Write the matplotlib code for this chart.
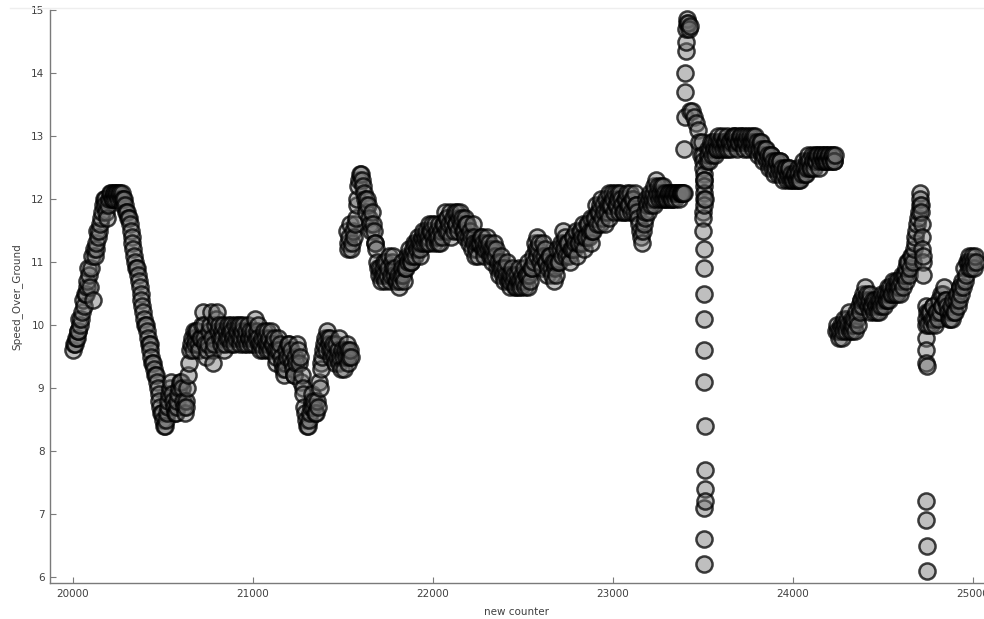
import numpy as np
import matplotlib
matplotlib.use("Agg")
import matplotlib.pyplot as plt
from matplotlib.lines import Line2D

# ---- data: Speed_Over_Ground against the record counter ----
# Regular stretches are logged every 10 counts; a second reading sits
# 5 counts after each one (the "_mid" lists).
STEP = 10
MID = 5

seg_a_start = 20000
seg_a_sog = [
    9.6, 9.7, 9.8, 9.9, 10.0, 10.2, 10.3, 10.5, 10.7, 10.8,
    10.9, 10.4, 11.1, 11.3, 11.4, 11.6, 11.8, 12.0, 11.9, 11.7,
    12.0, 12.1, 12.0, 12.1, 12.1, 12.0, 12.1, 12.1, 12.0, 11.9,
    11.8, 11.7, 11.5, 11.3, 11.1, 10.9, 10.8, 10.6, 10.4, 10.2,
    10.0, 9.9, 9.7, 9.6, 9.4, 9.3, 9.2, 9.0, 8.8, 8.6,
    8.5, 8.4, 8.6, 8.8, 9.0, 8.9, 8.7, 8.6, 8.8, 9.0,
    9.1, 8.8, 8.6, 8.7, 9.2, 9.6, 9.8, 9.9, 9.7, 9.9,
    9.6, 9.8, 10.2, 9.8, 9.5, 9.7, 10.0, 9.8, 9.4, 10.0,
    10.2, 10.0, 9.7, 9.8, 9.6, 9.9, 10.0, 9.9, 9.7, 9.8,
    10.0, 9.9, 9.8, 10.0, 9.9, 9.7, 9.9, 10.0, 9.8, 9.7,
    9.9, 10.1, 9.9, 9.8, 9.6, 9.8, 9.9, 9.7, 9.6, 9.8,
    9.9, 9.7, 9.6, 9.5, 9.8, 9.7, 9.4, 9.2, 9.3, 9.5,
    9.7, 9.6, 9.3, 9.2, 9.4, 9.6, 9.5, 9.2, 8.9, 8.6,
    8.4, 8.5, 8.7, 8.9, 8.8, 8.6, 8.7, 9.0, 9.3, 9.6,
    9.8, 9.9, 9.7, 9.8, 9.6, 9.5, 9.7, 9.6, 9.4, 9.3,
    9.5, 9.6, 9.7, 9.4, 9.6,
]
seg_a_mid = [
    9.7, 9.8, 9.9, 10.1, 10.1, 10.4, 10.5, 10.6, 10.9, 10.6,
    11.1, 11.2, 11.2, 11.5, 11.5, 11.7, 11.9, 12.0, 11.8, 11.9,
    12.1, 12.0, 12.1, 12.0, 12.1, 12.1, 12.0, 11.9, 12.0, 11.8,
    11.7, 11.6, 11.4, 11.2, 11.0, 10.9, 10.7, 10.5, 10.3, 10.1,
    10.0, 9.8, 9.7, 9.5, 9.4, 9.2, 9.1, 8.9, 8.7, 8.6,
    8.4, 8.5, 8.7, 8.9, 9.1, 8.8, 8.6, 8.7, 8.9, 9.1,
    9.0, 8.7, 8.8, 9.0, 9.4, 9.7, 9.6, 9.8, 9.9, 9.7,
    9.8, 10.0, 10.0, 9.7, 9.6, 9.9, 10.2, 9.6, 9.7, 10.1,
    9.9, 9.8, 9.9, 10.0, 9.7, 9.8, 9.8, 10.0, 9.9, 9.7,
    9.8, 10.0, 9.7, 9.8, 10.0, 9.8, 9.7, 9.8, 9.9, 9.8,
    9.7, 9.8, 10.0, 9.7, 9.7, 9.6, 9.8, 9.9, 9.7, 9.6,
    9.7, 9.8, 9.4, 9.6, 9.6, 9.5, 9.3, 9.4, 9.6, 9.7,
    9.5, 9.4, 9.2, 9.5, 9.7, 9.4, 9.1, 9.0, 8.7, 8.5,
    8.4, 8.6, 8.8, 8.7, 8.6, 8.8, 9.1, 9.4, 9.5, 9.7,
    9.6, 9.8, 9.6, 9.5, 9.7, 9.4, 9.5, 9.8, 9.5, 9.6,
    9.3, 9.5, 9.6, 9.5, 9.5,
]

seg_b_start = 21520
seg_b_sog = [
    11.5, 11.2, 11.6, 11.3, 11.4, 11.7, 12.0, 12.3, 12.4, 12.2,
    12.0, 11.8, 11.9, 11.6, 11.8, 11.5, 11.3, 11.0, 10.8, 10.7,
    10.9, 10.8, 11.0, 10.9, 10.7, 11.0, 11.1, 10.9, 10.7, 10.6,
    10.8, 10.9, 10.7, 10.9, 11.0, 11.1, 11.0, 11.2, 11.1, 11.2,
    11.3, 11.2, 11.4, 11.3, 11.5, 11.4, 11.3, 11.5, 11.4, 11.6,
    11.5, 11.4, 11.3, 11.4, 11.6, 11.5, 11.7, 11.6, 11.4, 11.7,
    11.8, 11.6, 11.5, 11.8, 11.7, 11.5, 11.4, 11.6, 11.3, 11.4,
    11.6, 11.3, 11.2, 11.1, 11.3, 11.4, 11.3, 11.2, 11.4, 11.3,
    11.2, 11.1, 11.3, 11.2, 11.0, 10.9, 11.1, 10.8, 10.9, 11.0,
    10.8, 10.7, 10.9, 10.8, 10.6, 10.7, 10.9, 10.6, 10.7, 10.6,
    10.8, 10.6, 10.7, 10.9, 11.0, 11.2, 11.4, 11.3, 11.1, 11.3,
    11.2, 11.0, 10.9, 11.1, 10.8, 10.7, 11.0, 11.2, 11.0, 11.3,
    11.5, 11.2, 11.1, 11.3, 11.0, 11.2, 11.4, 11.3, 11.1, 11.3,
    11.5, 11.4, 11.2, 11.4, 11.6, 11.5, 11.3, 11.5, 11.7, 11.6,
    11.8, 11.9, 11.7, 11.8, 12.0, 11.9, 11.7, 11.9, 12.0, 12.1,
    11.9, 12.0, 12.1, 11.9, 11.8, 12.0, 12.1, 11.9, 11.8, 12.0,
    12.1, 11.9, 11.7, 11.5, 11.3, 11.6, 11.8, 11.9, 12.0, 11.9,
    12.1, 12.2, 12.3, 12.2, 12.1, 12.0, 12.2, 12.1, 12.0, 12.1,
    12.1, 12.0, 12.1, 12.1, 12.1, 12.1, 12.1, 12.1,
]
seg_b_mid = [
    11.3, 11.4, 11.2, 11.5, 11.6, 11.9, 12.2, 12.4, 12.3, 12.1,
    11.9, 12.0, 11.7, 11.5, 11.6, 11.3, 11.2, 10.9, 10.9, 10.8,
    11.0, 10.7, 10.8, 11.1, 10.8, 10.9, 10.8, 10.7, 10.8, 10.7,
    11.0, 10.8, 10.9, 11.1, 11.2, 11.0, 11.1, 11.3, 11.3, 11.4,
    11.1, 11.3, 11.5, 11.4, 11.3, 11.6, 11.5, 11.6, 11.3, 11.4,
    11.3, 11.6, 11.5, 11.6, 11.8, 11.7, 11.5, 11.8, 11.6, 11.5,
    11.6, 11.8, 11.7, 11.6, 11.5, 11.7, 11.6, 11.4, 11.5, 11.2,
    11.4, 11.1, 11.3, 11.3, 11.4, 11.2, 11.1, 11.3, 11.2, 11.1,
    11.0, 11.2, 11.1, 10.9, 10.8, 11.0, 10.9, 10.7, 10.8, 10.7,
    10.6, 10.8, 10.7, 10.6, 10.8, 10.6, 10.7, 10.8, 10.9, 10.8,
    11.0, 10.8, 10.9, 11.1, 11.3, 11.1, 11.2, 11.0, 10.9, 11.1,
    11.0, 10.8, 11.1, 10.9, 11.0, 10.9, 10.8, 11.0, 11.2, 11.1,
    11.3, 11.4, 11.3, 11.1, 11.2, 11.4, 11.2, 11.5, 11.3, 11.5,
    11.3, 11.6, 11.4, 11.6, 11.4, 11.7, 11.5, 11.7, 11.9, 11.8,
    11.6, 12.0, 11.9, 11.6, 11.8, 12.1, 11.9, 12.1, 11.8, 11.9,
    12.1, 11.8, 12.0, 11.8, 12.0, 11.8, 11.9, 12.1, 12.0, 11.8,
    11.9, 11.8, 11.6, 11.4, 11.5, 11.7, 12.0, 11.8, 12.1, 12.0,
    11.9, 12.0, 12.1, 12.0, 12.2, 12.1, 12.0, 12.0, 12.1, 12.0,
    12.0, 12.1, 12.0, 12.1, 12.0, 12.1, 12.1, 12.1,
]

# burst of irregular readings around counter 23400-23520
burst_counter = [
    23395, 23398, 23400, 23402, 23404, 23406, 23408, 23410, 23412, 23415,
    23420, 23425, 23430, 23440, 23450, 23460, 23470, 23480, 23490,
    23496, 23498, 23500, 23502, 23503, 23504, 23505, 23506, 23507, 23508,
    23500, 23501, 23502, 23503, 23504, 23505, 23506, 23507, 23508, 23509,
    23510, 23511, 23512, 23505, 23506, 23507, 23508, 23509,
]
burst_sog = [
    12.8, 13.3, 13.7, 14.0, 14.35, 14.5, 14.7, 14.8, 14.85, 14.8,
    14.7, 14.75, 13.4, 13.4, 13.3, 13.2, 13.1, 12.9, 12.7,
    12.9, 12.7, 12.6, 12.5, 12.4, 12.3, 12.2, 12.1, 12.0, 11.9,
    11.8, 11.7, 11.5, 11.2, 10.9, 10.5, 10.1, 9.6, 9.1, 8.4,
    7.7, 7.4, 7.2, 7.1, 6.6, 6.2, 12.3, 12.0,
]

seg_c_start = 23520
seg_c_sog = [
    12.6, 12.7, 12.8, 12.7, 12.8, 12.9, 12.8, 12.9, 12.9, 12.8,
    12.9, 12.9, 12.8, 12.9, 12.9, 13.0, 12.9, 12.8, 12.9, 13.0,
    12.9, 13.0, 12.9, 12.8, 13.0, 12.9, 12.8, 13.0, 12.9, 12.8,
    12.9, 12.8, 12.7, 12.8, 12.7, 12.6, 12.7, 12.6, 12.5, 12.6,
    12.5, 12.6, 12.5, 12.4, 12.5, 12.4, 12.5, 12.4, 12.3, 12.4,
    12.3, 12.4, 12.3, 12.4, 12.5, 12.4, 12.5, 12.6, 12.5, 12.6,
    12.7, 12.6, 12.7, 12.6, 12.7, 12.6, 12.7, 12.6, 12.7, 12.6,
    12.7, 12.6,
]
seg_c_mid = [
    12.8, 12.6, 12.9, 12.9, 12.7, 12.8, 13.0, 12.8, 13.0, 12.9,
    12.8, 13.0, 12.9, 12.8, 13.0, 12.9, 13.0, 12.9, 13.0, 12.9,
    12.8, 12.9, 13.0, 12.9, 12.9, 13.0, 12.9, 12.8, 12.7, 12.9,
    12.7, 12.6, 12.8, 12.6, 12.5, 12.7, 12.5, 12.4, 12.6, 12.4,
    12.6, 12.4, 12.3, 12.5, 12.3, 12.5, 12.3, 12.3, 12.4, 12.3,
    12.5, 12.3, 12.5, 12.6, 12.4, 12.6, 12.7, 12.5, 12.7, 12.5,
    12.6, 12.7, 12.5, 12.7, 12.6, 12.7, 12.6, 12.7, 12.6, 12.7,
    12.6, 12.7,
]

seg_d_start = 24240
seg_d_sog = [
    9.9, 9.9, 9.9, 9.8, 9.9, 10.0, 10.1, 10.2, 10.0, 9.9,
    10.1, 10.2, 10.0, 10.2, 10.4, 10.5, 10.6, 10.5, 10.4, 10.5,
    10.3, 10.2, 10.3, 10.4, 10.2, 10.3, 10.4, 10.5, 10.4, 10.5,
    10.6, 10.5, 10.6, 10.7, 10.5, 10.6, 10.7, 10.6, 10.8, 10.9,
    11.0, 10.9, 11.1, 11.2, 11.4, 11.6, 11.8,
]
seg_d_mid = [
    10.0, 9.8, 10.0, 10.0, 10.1, 9.9, 10.0, 9.9, 10.1, 10.0,
    9.9, 10.1, 10.3, 10.4, 10.3, 10.4, 10.4, 10.3, 10.2, 10.3,
    10.4, 10.4, 10.2, 10.3, 10.4, 10.5, 10.3, 10.4, 10.6, 10.4,
    10.5, 10.7, 10.5, 10.6, 10.7, 10.5, 10.8, 10.8, 10.7, 11.0,
    10.8, 11.1, 11.0, 11.3, 11.5, 11.7, 11.9,
]

# second burst near counter 24705-24745
burst2_counter = [
    24705, 24708, 24710, 24712, 24714, 24716, 24718, 24720, 24722, 24724,
    24736, 24737, 24738, 24739, 24740, 24741, 24742, 24743,
    24740, 24741, 24742, 24743,
]
burst2_sog = [
    12.1, 12.0, 11.9, 11.8, 11.6, 11.4, 11.2, 11.0, 10.8, 11.1,
    10.3, 10.1, 10.0, 9.8, 9.6, 9.4, 9.35, 10.2,
    7.2, 6.9, 6.5, 6.1,
]

seg_e_start = 24750
seg_e_sog = [
    10.0, 10.2, 10.1, 10.3, 10.0, 10.2, 10.4, 10.5, 10.3, 10.6,
    10.4, 10.2, 10.1, 10.3, 10.4, 10.2, 10.5, 10.4, 10.6, 10.7,
    10.9, 10.8, 11.0, 11.1, 10.9, 11.0, 11.1,
]
seg_e_mid = [
    10.2, 10.0, 10.3, 10.1, 10.2, 10.1, 10.2, 10.3, 10.5, 10.4,
    10.3, 10.1, 10.2, 10.1, 10.2, 10.4, 10.3, 10.6, 10.5, 10.6,
    10.7, 11.0, 10.9, 11.0, 11.1, 10.9, 11.0,
]

x_ticks = [20000, 21000, 22000, 23000, 24000, 25000]
y_ticks = [6, 7, 8, 9, 10, 11, 12, 13, 14, 15]


def regular(start, values, offset=0):
    counter = start + offset + STEP * np.arange(len(values))
    return counter, np.asarray(values, dtype=float)


parts = [
    regular(seg_a_start, seg_a_sog), regular(seg_a_start, seg_a_mid, MID),
    regular(seg_b_start, seg_b_sog), regular(seg_b_start, seg_b_mid, MID),
    (np.asarray(burst_counter), np.asarray(burst_sog)),
    regular(seg_c_start, seg_c_sog), regular(seg_c_start, seg_c_mid, MID),
    regular(seg_d_start, seg_d_sog), regular(seg_d_start, seg_d_mid, MID),
    (np.asarray(burst2_counter), np.asarray(burst2_sog)),
    regular(seg_e_start, seg_e_sog), regular(seg_e_start, seg_e_mid, MID),
]
counter = np.concatenate([p[0] for p in parts])
sog = np.concatenate([p[1] for p in parts])
order = np.argsort(counter, kind="stable")
counter, sog = counter[order], sog[order]

# ---- figure ----
fig = plt.figure(figsize=(9.84, 6.19), dpi=100)
ax = fig.add_axes([50 / 984, 36 / 619, 934 / 984, 573 / 619])

ax.scatter(counter, sog, s=135,
           facecolor=(0.45, 0.45, 0.45, 0.45),
           edgecolor=(0.0, 0.0, 0.0, 0.75),
           linewidths=1.8, zorder=3, clip_on=False)

ax.set_xlim(19872, 25061)
ax.set_ylim(5.905, 15.0)
ax.set_xticks(x_ticks)
ax.set_yticks(y_ticks)

for side in ("top", "right"):
    ax.spines[side].set_visible(False)
for side in ("left", "bottom"):
    ax.spines[side].set_color("#7a7a7a")
    ax.spines[side].set_linewidth(1.0)

ax.tick_params(direction="in", length=4, width=0.8, color="#7a7a7a",
               labelsize=7.5, labelcolor="#404040", pad=4)

ax.set_xlabel("new counter", fontsize=7.5, color="#404040", labelpad=6)
ax.set_ylabel("Speed_Over_Ground", fontsize=7.5, color="#404040", labelpad=6)

# faint border line along the top of the panel
fig.add_artist(Line2D([10 / 984, 1.0], [1 - 8 / 619, 1 - 8 / 619],
                      transform=fig.transFigure, color="#eeeeee", lw=1.0))

fig.savefig("out.png", dpi=100)
